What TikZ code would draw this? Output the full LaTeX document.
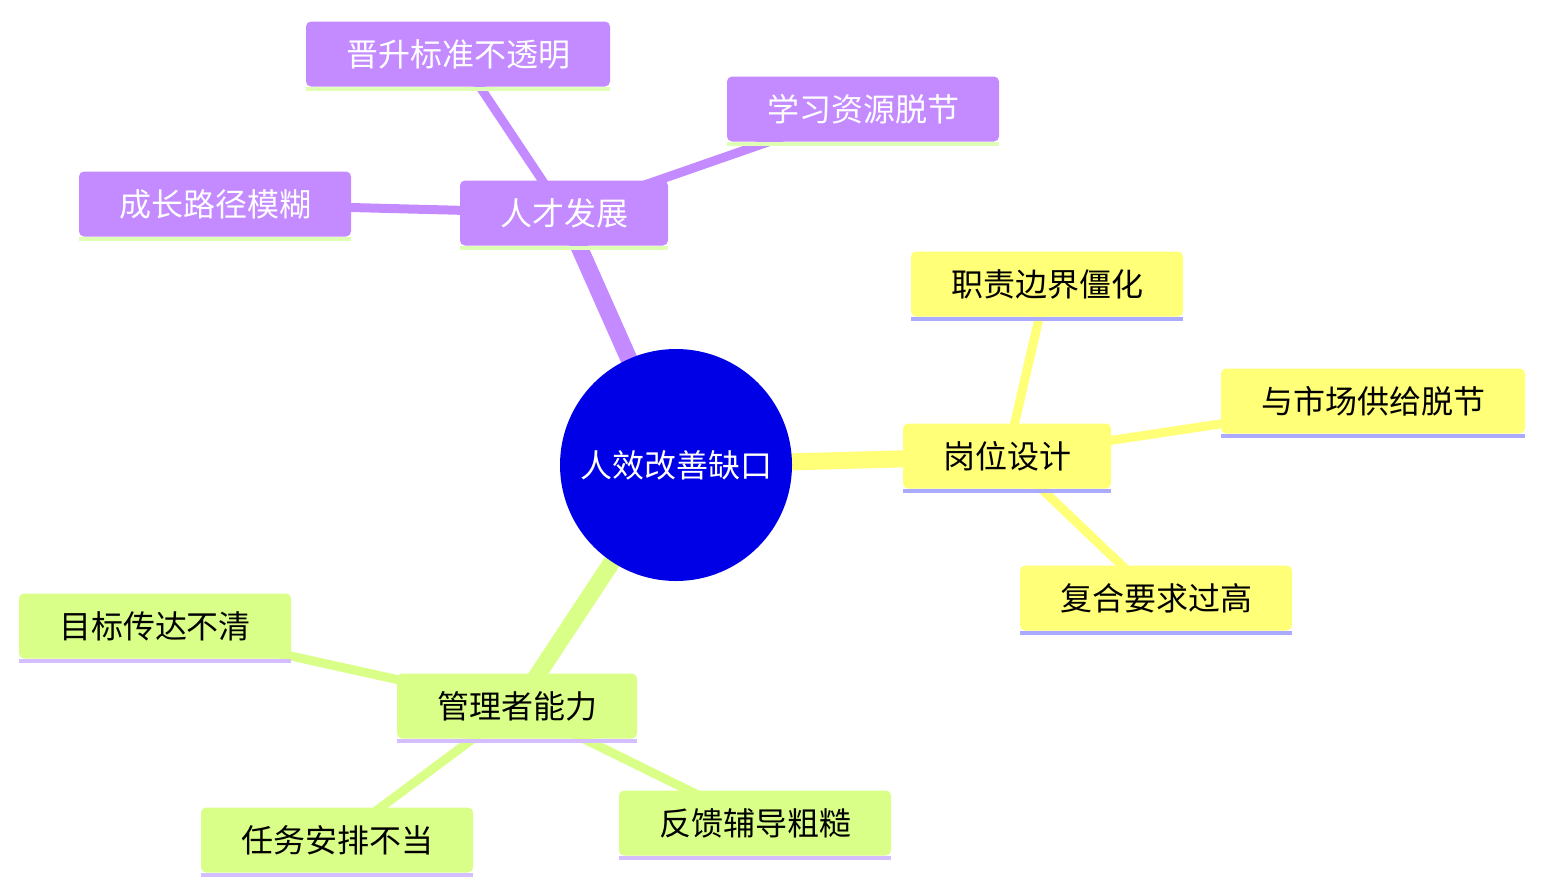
\documentclass[tikz,border=0pt]{standalone}
\usepackage{fontspec}
\setmainfont{Noto Sans CJK SC}
\usetikzlibrary{positioning,backgrounds}
\definecolor{rootblue}{RGB}{0,0,230}
\definecolor{talentpurple}{RGB}{196,138,255}
\definecolor{postyellow}{RGB}{255,255,120}
\definecolor{mgrgreen}{RGB}{218,255,136}
\definecolor{lineblue}{RGB}{170,170,255}
\definecolor{linegreen}{RGB}{222,255,180}
\definecolor{linelilac}{RGB}{212,190,255}

\begin{document}
\begin{tikzpicture}[x=1pt, y=-1pt,
  idea/.style 2 args={fill=#1, rounded corners=5pt, minimum height=65pt,
    inner xsep=40pt, inner ysep=0pt, font=\fontsize{32}{38}\selectfont,
    append after command={([yshift=-2pt]\tikzlastnode.south west)
      edge[draw=#2, line width=4pt, rounded corners=0pt]
      ([yshift=-2pt]\tikzlastnode.south east)}},
  talent/.style={idea={talentpurple}{linegreen}, text=white},
  post/.style={idea={postyellow}{lineblue}, text=black},
  mgr/.style={idea={mgrgreen}{linelilac}, text=black},
  trunk/.style={line width=17pt},
  twig/.style={line width=9pt}]

\useasboundingbox (0,0) rectangle (1545,894);

% ---------------- root ----------------
\node[circle, fill=rootblue, minimum size=232pt, inner sep=0pt, text=white,
  font=\fontsize{32}{38}\selectfont] (gap) at (676,465) {人效改善缺口};

% ---------------- talent branch ----------------
\node[talent] (talent) at (564,213) {人才发展};
\node[talent] (promo) at (458,54) {晋升标准不透明};
\node[talent] (learn) at (863,109) {学习资源脱节};
\node[talent] (growth) at (215,204) {成长路径模糊};

% ---------------- post branch ----------------
\node[post] (post) at (1007,456) {岗位设计};
\node[post] (duty) at (1047,284) {职责边界僵化};
\node[post] (market) at (1373,401) {与市场供给脱节};
\node[post] (demand) at (1156,598) {复合要求过高};

% ---------------- manager branch ----------------
\node[mgr] (mgr) at (517,706) {管理者能力};
\node[mgr] (goal) at (155,626) {目标传达不清};
\node[mgr] (task) at (337,840) {任务安排不当};
\node[mgr] (coach) at (755,823) {反馈辅导粗糙};

% edges behind the boxes
\begin{scope}[on background layer]
\draw[trunk, talentpurple] (gap.center) -- (talent.center);
\draw[twig, talentpurple] (talent.center) -- (promo.center);
\draw[twig, talentpurple] (talent.center) -- (learn.center);
\draw[twig, talentpurple] (talent.center) -- (growth.center);

\draw[trunk, postyellow] (gap.center) -- (post.center);
\draw[twig, postyellow] (post.center) -- (duty.center);
\draw[twig, postyellow] (post.center) -- (market.center);
\draw[twig, postyellow] (post.center) -- (demand.center);

\draw[trunk, mgrgreen] (gap.center) -- (mgr.center);
\draw[twig, mgrgreen] (mgr.center) -- (goal.center);
\draw[twig, mgrgreen] (mgr.center) -- (task.center);
\draw[twig, mgrgreen] (mgr.center) -- (coach.center);
\end{scope}

\end{tikzpicture}
\end{document}
